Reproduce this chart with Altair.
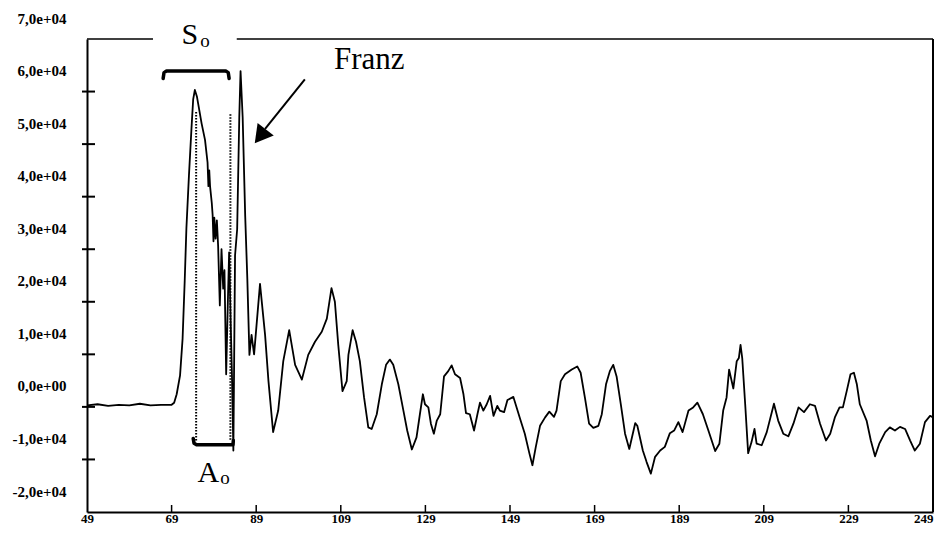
import altair as alt
import pandas as pd

# ---- signal (x in samples, y in counts) ----
sig_x = [49.0, 51.5, 54.0, 56.5, 59.0, 61.5, 64.0, 66.5, 69.0, 69.6, 70.2, 71.0, 71.6, 72.1, 72.5, 73.1, 73.7, 74.1, 74.5,
         75.0, 75.3, 76.1, 76.9, 77.5, 77.7, 77.9, 78.1, 78.5, 78.7, 78.9, 79.1, 79.4, 79.7, 80.0, 80.4, 80.8, 81.2, 81.5,
         81.9, 82.3, 82.6, 83.0, 83.3, 83.6, 83.8, 84.0, 84.5, 85.0, 85.3, 85.8, 86.4, 86.9, 87.4, 87.9, 88.5, 89.9, 91.1,
         91.9, 93.0, 94.2, 95.4, 96.8, 98.2, 99.8, 101.3, 102.9, 104.5, 105.7, 106.8, 107.6, 108.4, 109.4, 110.4, 110.8,
         111.8, 112.6, 113.5, 114.5, 115.5, 116.3, 117.5, 118.7, 119.7, 120.6, 121.4, 122.6, 123.8, 124.7, 125.8, 126.9,
         127.7, 128.4, 128.9, 129.7, 130.3, 131.0, 131.7, 132.5, 133.4, 134.4, 135.2, 136.0, 137.2, 138.0, 138.6, 139.5,
         140.5, 141.3, 141.9, 142.7, 143.5, 144.3, 145.1, 146.0, 146.6, 147.6, 148.4, 149.8, 151.4, 152.5, 153.6, 154.3,
         155.1, 156.1, 157.3, 158.3, 159.4, 160.0, 161.0, 162.0, 163.6, 164.9, 165.7, 166.7, 167.7, 168.7, 169.9, 170.7,
         171.7, 172.6, 173.4, 174.2, 175.2, 176.2, 177.2, 178.6, 179.1, 180.4, 181.3, 182.3, 183.3, 184.5, 185.6, 186.8,
         187.8, 188.8, 189.8, 191.2, 192.3, 193.3, 194.6, 195.9, 197.5, 198.5, 199.4, 200.2, 200.8, 201.8, 202.6, 203.1,
         203.5, 203.9, 204.6, 205.3, 206.1, 206.8, 207.3, 208.5, 209.7, 211.4, 212.4, 213.6, 214.8, 216.0, 217.2, 218.5,
         219.9, 221.1, 222.3, 223.7, 224.7, 225.8, 226.9, 227.7, 228.6, 229.5, 230.3, 231.0, 231.7, 233.3, 234.3, 235.3,
         236.3, 237.7, 238.8, 240.0, 241.2, 242.4, 243.6, 244.7, 245.9, 247.1, 248.3, 249.0]
sig_y = [300, 500, 200, 400, 300, 600, 300, 400, 400, 800, 2400, 6000, 13000, 24000, 34000, 44000, 53000, 58500, 60300,
         59000, 57600, 53900, 50800, 46500, 42000, 45000, 41900, 38800, 36500, 31500, 36000, 32000, 35500, 30600, 19300,
         30000, 22500, 26000, 6200, 20000, 29400, 15000, 5000, -8300, 10000, 28800, 33800, 55100, 63900, 55100, 36300,
         24400, 9900, 13700, 10000, 23400, 13700, 4900, -4800, -700, 8700, 14600, 8000, 5200, 9900, 12400, 14300, 16800,
         22600, 20000, 11800, 3000, 4900, 9900, 14600, 12400, 8700, 1800, -3900, -4200, -1400, 4300, 8000, 9000, 8000,
         4300, -700, -4500, -8100, -5800, -1400, 2400, 500, -100, -3200, -5100, -2600, -1400, 5800, 6800, 7900, 6200,
         5500, 2400, -1200, -1400, -4500, -1400, 800, -700, 500, 2100, -1700, 200, -700, -1000, 1300, 1900, -2300, -5100,
         -8900, -11100, -7600, -3600, -2000, -900, -1900, -700, 4900, 6200, 7100, 7700, 6500, 1800, -3200, -4000, -3600,
         -1400, 4300, 6800, 8000, 5800, 500, -5100, -8000, -3100, -3600, -8300, -10500, -12700, -9500, -8300, -7600,
         -5000, -4500, -2900, -4800, -700, -100, 800, -1400, -4500, -8400, -7000, -700, 1800, 7100, 3500, 8700, 9300,
         11800, 9300, 500, -8800, -6700, -4200, -7000, -7300, -4800, 600, -2600, -5100, -5600, -3200, -100, -1000, 500,
         200, -3200, -6400, -5100, -2000, -100, -100, 3000, 6200, 6500, 4300, 500, -2600, -6400, -9400, -7000, -4800,
         -3900, -4500, -3800, -4200, -6400, -8300, -7000, -2900, -1700, -2000]

# ---- axes ----
x_ticks = [49, 69, 89, 109, 129, 149, 169, 189, 209, 229, 249]
y_ticks = [-20000, -10000, 0, 10000, 20000, 30000, 40000, 50000, 60000, 70000]
x_inner_ticks = [69, 89, 109, 129, 149, 169, 189, 209, 229]
y_inner_ticks = [-10000, 0, 10000, 20000, 30000, 40000, 50000, 60000]

# ---- annotations ----
top_seg_x1 = [49, 84.4]
top_seg_x2 = [64.6, 249]
dot_x = [74.8, 82.9]
dot_top = [56100, 55700]
dot_bottom = [-6500, -6500]
so_br_x = [67.0, 67.2, 67.8, 81.8, 82.4, 82.6]
so_br_y = [62500, 63600, 63900, 63900, 63600, 62500]
ao_br_x = [74.1, 74.3, 74.9, 83.5, 83.6]
ao_br_y = [-6000, -6900, -7200, -7200, -6400]
arrow_from = (100.5, 62300)
arrow_to = (91.1, 52900)
arrow_head = (89.95, 51500)
labels_txt = ["S", "o", "A", "o", "Franz"]
labels_x = [73.3, 76.9, 77.7, 81.6, 107.4]
labels_y = [69000, 68400, -14300, -14700, 64300]
labels_size = [30, 19, 30, 19, 31]
labels_align = ["center", "center", "center", "center", "left"]

W, H = 846, 473
FONT = "Liberation Serif"

xs = alt.Scale(domain=[49, 249], nice=False, zero=False)
ys = alt.Scale(domain=[-20000, 70000], nice=False, zero=False)

sig = pd.DataFrame({"x": sig_x, "y": sig_y, "i": range(len(sig_x))})

ylabel = ("(datum.value < 0 ? '-' : '') + replace(format(abs(datum.value) / 10000, '.1f'), '.', ',')"
          " + (datum.value == 0 ? 'e+00' : 'e+04')")

line = alt.Chart(sig).mark_line(color="black", strokeWidth=1.8, strokeJoin="round").encode(
    x=alt.X("x:Q", scale=xs, title=None,
            axis=alt.Axis(values=x_ticks, ticks=False, grid=False, labelPadding=0, labelFont=FONT,
                          labelFontWeight="bold", labelFontSize=13, labelColor="black",
                          labelAlign={"condition": {"test": "datum.value >= 249", "value": "right"},
                                      "value": "center"},
                          domainColor="black", domainWidth=2, labelFlush=False, labelOverlap=False,
                          labelBound=False, format="d")),
    y=alt.Y("y:Q", scale=ys, title=None,
            axis=alt.Axis(values=y_ticks, ticks=False, grid=False, labelPadding=21, labelFont=FONT,
                          labelFontWeight="bold", labelFontSize=15, labelColor="black",
                          domainColor="black", domainWidth=2, labelFlush=False, labelOverlap=False,
                          labelBound=False, labelOffset=-21, labelExpr=ylabel)),
    order="i:Q",
)


def X(f):
    return alt.X(f, scale=xs, title=None)


def Y(f):
    return alt.Y(f, scale=ys, title=None)


ytick = alt.Chart(pd.DataFrame({"v": y_inner_ticks})).mark_rule(color="black", strokeWidth=2).encode(
    x=alt.value(-5), x2=alt.value(8), y=Y("v:Q"))
xtick = alt.Chart(pd.DataFrame({"v": x_inner_ticks})).mark_rule(color="black", strokeWidth=1.5).encode(
    x=X("v:Q"), y=alt.value(H - 7), y2=alt.value(H))

top = alt.Chart(pd.DataFrame({"x1": top_seg_x1, "x2": top_seg_x2, "y": [70000, 70000]})).mark_rule(
    color="black", strokeWidth=1.5).encode(x=X("x1:Q"), x2="x2:Q", y=Y("y:Q"))
right = alt.Chart(pd.DataFrame({"x": [249], "y1": [-20000], "y2": [70000]})).mark_rule(
    color="black", strokeWidth=2).encode(x=X("x:Q"), y=Y("y1:Q"), y2="y2:Q")

dots = alt.Chart(pd.DataFrame({"x": dot_x, "t": dot_top, "b": dot_bottom})).mark_rule(
    color="black", strokeWidth=2, strokeDash=[1.5, 1.5]).encode(x=X("x:Q"), y=Y("t:Q"), y2="b:Q")

br = pd.DataFrame({
    "x": so_br_x + ao_br_x,
    "y": so_br_y + ao_br_y,
    "g": ["S"] * len(so_br_x) + ["A"] * len(ao_br_x),
    "i": list(range(len(so_br_x))) + list(range(len(ao_br_x))),
})
brackets = alt.Chart(br).mark_line(color="black", strokeWidth=3.5, strokeCap="round", strokeJoin="round").encode(
    x=X("x:Q"), y=Y("y:Q"), detail="g:N", order="i:Q")

shaft = alt.Chart(pd.DataFrame({"x": [arrow_from[0]], "y": [arrow_from[1]],
                                "x2": [arrow_to[0]], "y2": [arrow_to[1]]})).mark_rule(
    color="black", strokeWidth=2).encode(x=X("x:Q"), y=Y("y:Q"), x2="x2:Q", y2="y2:Q")
head = alt.Chart(pd.DataFrame({"x": [arrow_head[0]], "y": [arrow_head[1]]})).mark_point(
    shape="triangle-up", filled=True, size=420, angle=218, color="black", opacity=1).encode(
    x=X("x:Q"), y=Y("y:Q"))

texts = []
for t, tx, ty, s, a in zip(labels_txt, labels_x, labels_y, labels_size, labels_align):
    texts.append(alt.Chart(pd.DataFrame({"t": [t], "x": [tx], "y": [ty]})).mark_text(
        font=FONT, fontSize=s, align=a, baseline="alphabetic", color="black").encode(
        x=X("x:Q"), y=Y("y:Q"), text="t:N"))

chart = alt.layer(line, ytick, xtick, top, right, dots, brackets, shaft, head, *texts).properties(
    width=W, height=H,
    autosize=alt.AutoSizeParams(type="none"),
    padding={"left": 79, "top": 31, "right": 2, "bottom": 14},
    background="white",
).configure_view(stroke=None)

chart.save("out.html", embed_options={"renderer": "svg", "actions": False})
